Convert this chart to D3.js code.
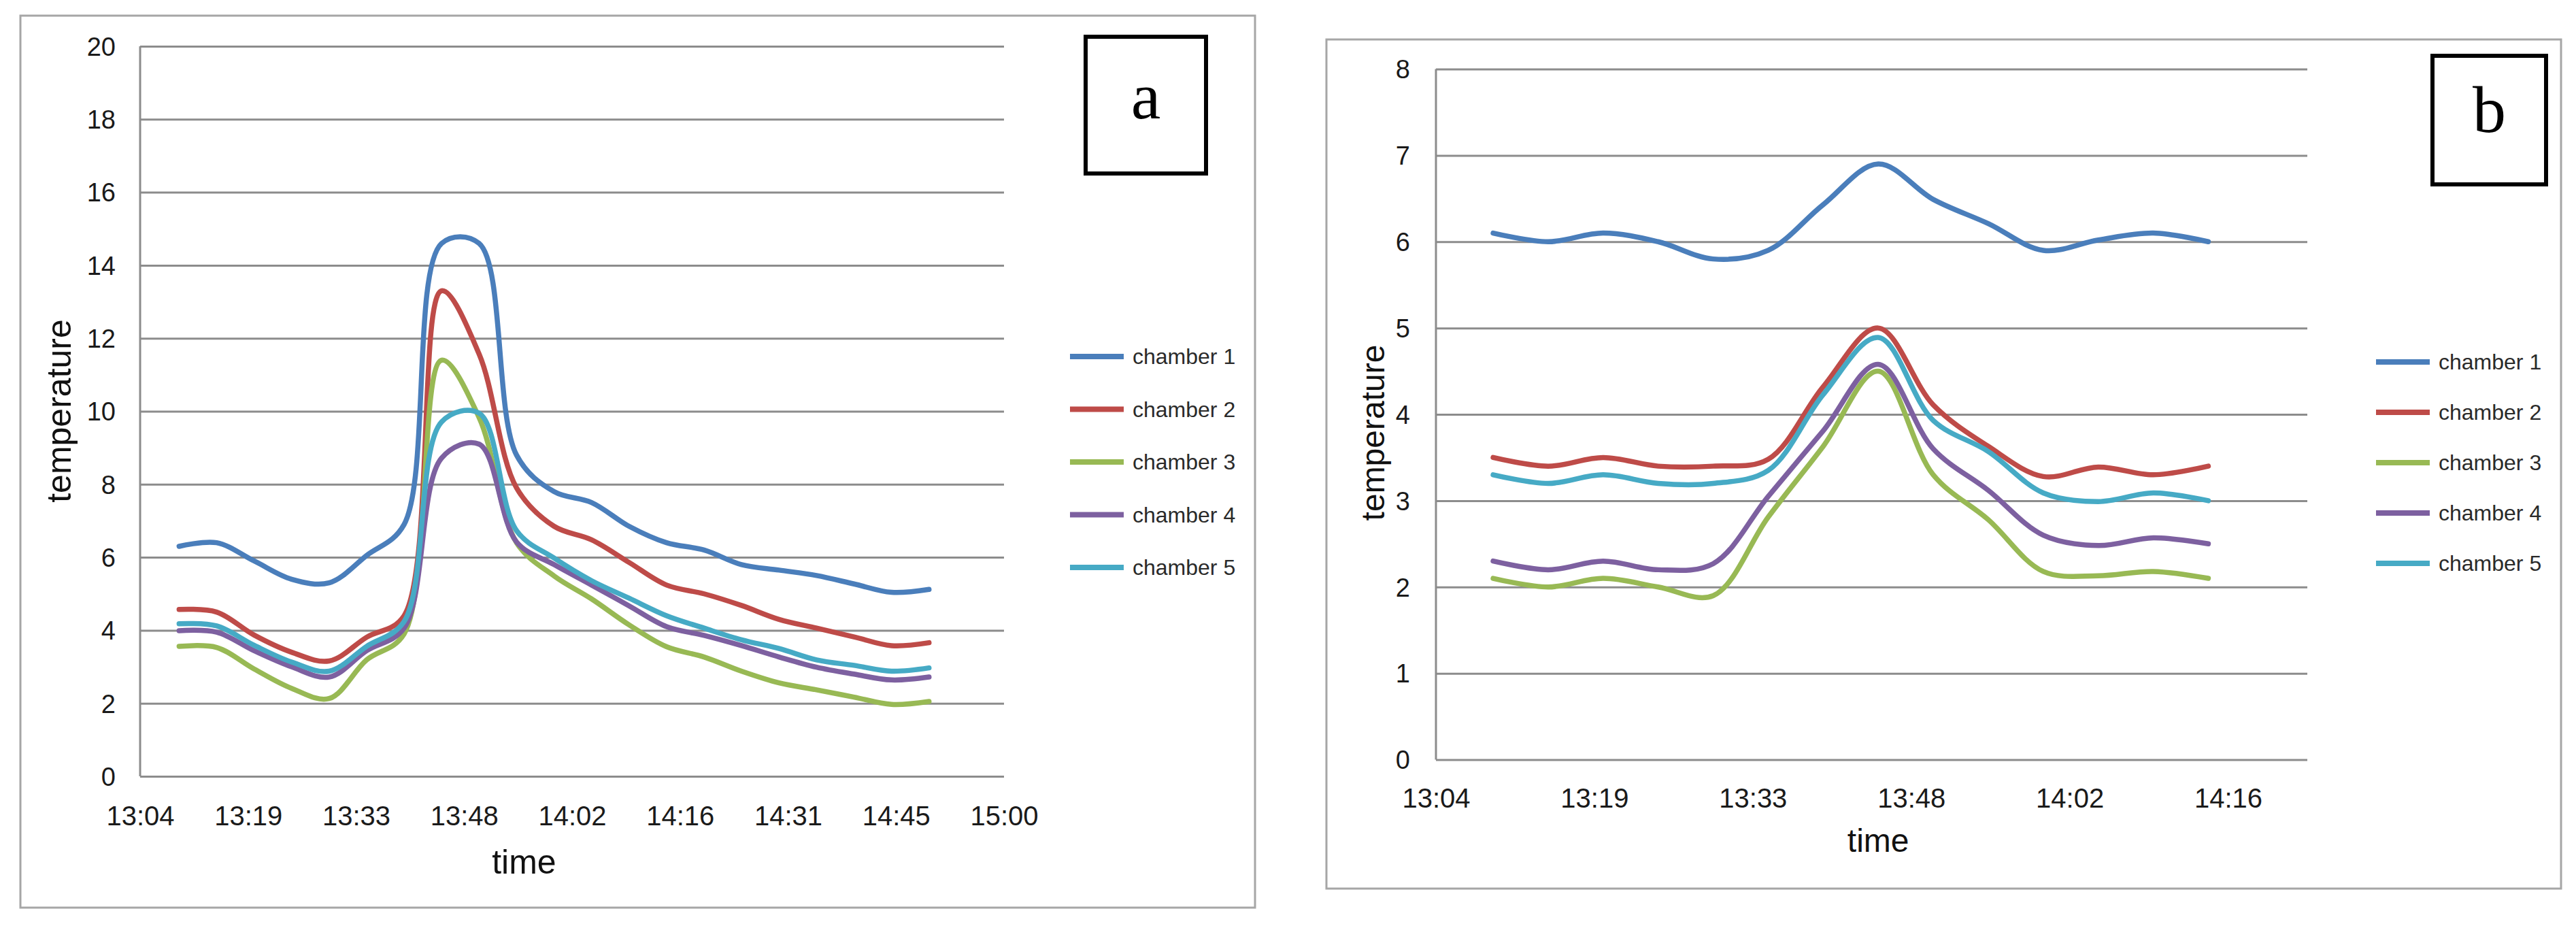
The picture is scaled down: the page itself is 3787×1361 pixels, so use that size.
<!DOCTYPE html>
<html>
<head>
<meta charset="utf-8">
<script src="https://cdn.jsdelivr.net/npm/d3@7"></script>
<style>
  body { margin: 0; background: #fff; }
  svg { display: block; }
</style>
</head>
<body>
<script>
const W = 3787;
const H = 1361;

// sample times (every 5 min)
const timesA = ["13:10","13:15","13:20","13:25","13:30","13:35","13:40","13:45","13:50","13:55",
  "14:00","14:05","14:10","14:15","14:20","14:25","14:30","14:35","14:40","14:45","14:50"];
const timesB = ["13:10","13:15","13:20","13:25","13:30","13:35","13:40","13:45","13:50","13:55",
  "14:00","14:05","14:10","14:15"];

const seriesNames = ["chamber 1", "chamber 2", "chamber 3", "chamber 4", "chamber 5"];

// panel a
const chamber1A = [6.3, 6.4, 5.9, 5.4, 5.3, 6.05, 6.9, 14.6, 14.6, 8.8, 7.8, 7.5, 6.85, 6.4, 6.2, 5.8, 5.65, 5.5, 5.27, 5.04, 5.12];
const chamber2A = [4.57, 4.5, 3.87, 3.4, 3.16, 3.81, 4.4, 13.3, 11.57, 7.9, 6.85, 6.48, 5.86, 5.24, 5.0, 4.68, 4.3, 4.06, 3.82, 3.58, 3.66];
const chamber3A = [3.56, 3.53, 2.94, 2.41, 2.13, 3.19, 3.9, 11.4, 9.83, 6.4, 5.49, 4.86, 4.15, 3.55, 3.27, 2.88, 2.56, 2.37, 2.17, 1.97, 2.05];
const chamber4A = [3.99, 3.95, 3.44, 3.0, 2.72, 3.44, 4.06, 8.72, 9.1, 6.42, 5.8, 5.24, 4.67, 4.1, 3.86, 3.58, 3.27, 2.99, 2.8, 2.64, 2.72];
const chamber5A = [4.18, 4.12, 3.59, 3.13, 2.88, 3.56, 4.24, 9.71, 9.95, 6.73, 5.98, 5.36, 4.88, 4.4, 4.06, 3.74, 3.5, 3.19, 3.04, 2.88, 2.97];

// panel b
const chamber1B = [6.1, 6.0, 6.1, 6.0, 5.8, 5.9, 6.43, 6.9, 6.49, 6.21, 5.9, 6.02, 6.1, 6.0];
const chamber2B = [3.5, 3.4, 3.5, 3.4, 3.4, 3.48, 4.32, 5.0, 4.11, 3.63, 3.28, 3.39, 3.3, 3.4];
const chamber3B = [2.1, 2.0, 2.1, 2.0, 1.9, 2.81, 3.63, 4.5, 3.3, 2.78, 2.18, 2.13, 2.18, 2.1];
const chamber4B = [2.3, 2.2, 2.3, 2.2, 2.27, 3.05, 3.81, 4.58, 3.6, 3.12, 2.6, 2.48, 2.57, 2.5];
const chamber5B = [3.3, 3.2, 3.3, 3.2, 3.2, 3.35, 4.23, 4.89, 3.93, 3.57, 3.09, 2.99, 3.09, 3.0];

const xTickLabelsA = ["13:04","13:19","13:33","13:48","14:02","14:16","14:31","14:45","15:00"];
const xTickLabelsB = ["13:04","13:19","13:33","13:48","14:02","14:16"];
const yTicksA = [0, 2, 4, 6, 8, 10, 12, 14, 16, 18, 20];
const yTicksB = [0, 1, 2, 3, 4, 5, 6, 7, 8];

const colors = ["#4a7ebb", "#be4b48", "#98b954", "#7d60a0", "#46aac5"];

// excel axis: starts at 0.545 day, major unit 0.01 day (14.4 min)
const axisStart = 0.545 * 1440;
const majorUnit = 14.4;

const toMin = s => { const p = s.split(":"); return +p[0] * 60 + +p[1]; };

const svg = d3.select("body").append("svg")
  .attr("width", W)
  .attr("height", H);

function drawPanel(cfg) {
  const g = svg.append("g");

  g.append("rect")
    .attr("x", cfg.box[0]).attr("y", cfg.box[1])
    .attr("width", cfg.box[2] - cfg.box[0]).attr("height", cfg.box[3] - cfg.box[1])
    .attr("fill", "#fff").attr("stroke", "#a6a6a6").attr("stroke-width", 3);

  const x = d3.scaleLinear()
    .domain([axisStart, axisStart + cfg.majors * majorUnit])
    .range([cfg.left, cfg.right]);
  const y = d3.scaleLinear()
    .domain([0, d3.max(cfg.yTicks)])
    .range([cfg.bottom, cfg.top]);

  // gridlines + y labels
  const yAx = g.append("g")
    .attr("transform", `translate(${cfg.left},0)`)
    .call(d3.axisLeft(y).tickValues(cfg.yTicks).tickFormat(d3.format("d"))
      .tickSize(-(cfg.right - cfg.left)).tickPadding(cfg.left - cfg.yLabelRight));
  yAx.select(".domain").remove();
  yAx.selectAll(".tick line").attr("stroke", "#8c8c8c").attr("stroke-width", 3);
  yAx.selectAll(".tick text")
    .attr("font-family", "'Liberation Sans Narrow', 'Liberation Sans', Arial, sans-serif")
    .attr("font-size", 38).attr("fill", "#1a1a1a").attr("dy", "0.35em");

  g.append("line")
    .attr("x1", cfg.left).attr("x2", cfg.left)
    .attr("y1", cfg.top).attr("y2", cfg.bottom)
    .attr("stroke", "#8c8c8c").attr("stroke-width", 3);

  // x labels
  const xAx = g.append("g")
    .attr("transform", `translate(0,${cfg.bottom})`)
    .call(d3.axisBottom(x)
      .tickValues(cfg.xLabels.map((d, i) => axisStart + i * majorUnit))
      .tickFormat((d, i) => cfg.xLabels[i])
      .tickSize(0));
  xAx.select(".domain").remove();
  xAx.selectAll(".tick text")
    .attr("font-family", "'Liberation Sans Narrow', 'Liberation Sans', Arial, sans-serif")
    .attr("font-size", 40).attr("fill", "#1a1a1a")
    .attr("y", cfg.xLabelBase).attr("dy", 0);

  // series, smoothed like the spreadsheet lines
  const line = d3.line()
    .x((d, i) => x(toMin(cfg.times[i])))
    .y(d => y(d))
    .curve(d3.curveCatmullRom.alpha(0.5));

  g.selectAll(".series")
    .data(cfg.series)
    .enter().append("path")
    .attr("class", "series")
    .attr("d", line)
    .attr("fill", "none")
    .attr("stroke", (d, i) => colors[i])
    .attr("stroke-width", 7.5)
    .attr("stroke-linejoin", "round")
    .attr("stroke-linecap", "round");

  // axis titles
  g.append("text")
    .attr("x", x(cfg.timeX)).attr("y", cfg.timeY)
    .attr("text-anchor", "middle")
    .attr("font-family", "'Liberation Sans', Arial, sans-serif")
    .attr("font-size", cfg.titleSize).attr("fill", "#111")
    .text("time");

  g.append("text")
    .attr("transform", `translate(${cfg.tempX},${cfg.tempY}) rotate(-90)`)
    .attr("text-anchor", "middle")
    .attr("font-family", "'Liberation Sans', Arial, sans-serif")
    .attr("font-size", cfg.titleSize).attr("fill", "#111")
    .text("temperature");

  // legend
  const leg = g.append("g");
  seriesNames.forEach((name, i) => {
    const ly = cfg.legY + i * cfg.legStep;
    leg.append("line")
      .attr("x1", cfg.legX).attr("x2", cfg.legX + 79)
      .attr("y1", ly).attr("y2", ly)
      .attr("stroke", colors[i]).attr("stroke-width", 8);
    leg.append("text")
      .attr("x", cfg.legX + 92).attr("y", ly).attr("dy", "0.35em")
      .attr("font-family", "'Liberation Sans', Arial, sans-serif")
      .attr("font-size", 32).attr("fill", "#2a2a2a")
      .text(name);
  });

  // panel letter
  const lb = cfg.letterBox;
  g.append("rect")
    .attr("x", lb[0]).attr("y", lb[1])
    .attr("width", lb[2] - lb[0]).attr("height", lb[3] - lb[1])
    .attr("fill", "#fff").attr("stroke", "#000").attr("stroke-width", 6);
  g.append("text")
    .attr("x", (lb[0] + lb[2]) / 2).attr("y", cfg.letterBase)
    .attr("text-anchor", "middle")
    .attr("font-family", "'Liberation Serif', 'Times New Roman', serif")
    .attr("font-size", 98).attr("fill", "#000")
    .text(cfg.letter);
}

drawPanel({
  box: [30, 23, 1845, 1334],
  left: 206, right: 1476, top: 68, bottom: 1141,
  majors: 8,
  yTicks: yTicksA, yLabelRight: 170,
  xLabels: xTickLabelsA, xLabelBase: 72,
  times: timesA,
  series: [chamber1A, chamber2A, chamber3A, chamber4A, chamber5A],
  timeX: 836, timeY: 1284, titleSize: 50,
  tempX: 104, tempY: 604,
  legX: 1573, legY: 524, legStep: 77.5,
  letterBox: [1596, 54, 1773, 255], letterBase: 174, letter: "a"
});

drawPanel({
  box: [1950, 58, 3765, 1306],
  left: 2111, right: 3392, top: 101.5, bottom: 1116.5,
  majors: 5.5,
  yTicks: yTicksB, yLabelRight: 2073,
  xLabels: xTickLabelsB, xLabelBase: 70,
  times: timesB,
  series: [chamber1B, chamber2B, chamber3B, chamber4B, chamber5B],
  timeX: 825, timeY: 1252, titleSize: 48,
  tempX: 2035, tempY: 636,
  legX: 3493, legY: 532, legStep: 74,
  letterBox: [3576, 82, 3743, 271], letterBase: 194, letter: "b"
});
</script>
</body>
</html>
